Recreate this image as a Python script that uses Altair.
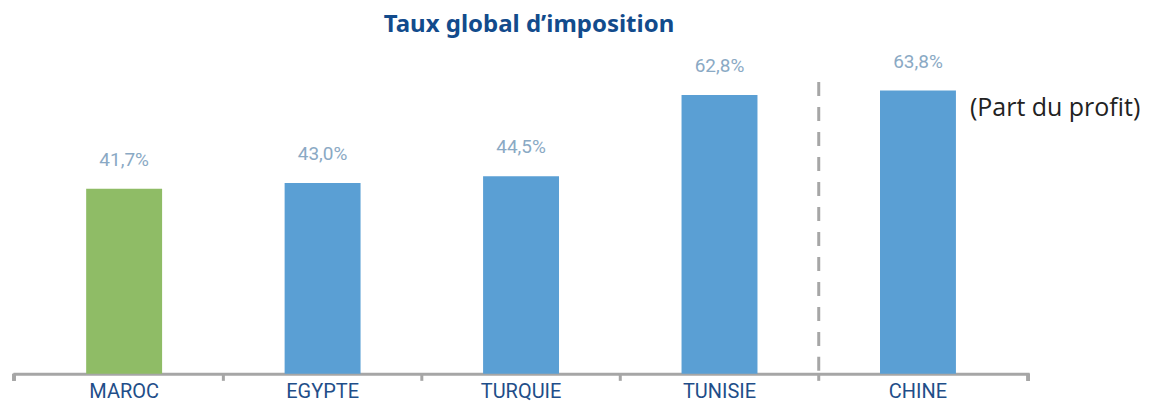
import altair as alt
import pandas as pd

countries = ["MAROC", "EGYPTE", "TURQUIE", "TUNISIE", "CHINE"]
values = [41.7, 43.0, 44.5, 62.8, 63.8]
groups = ["Maroc", "Autres", "Autres", "Autres", "Autres"]
title_text = "Taux global d\u2019imposition"
note_text = "(Part du profit)"

df = pd.DataFrame({"pays": countries, "taux": values, "groupe": groups})

W, H = 1017, 320
AXIS_GREY = "#A6A6A6"
DARK_BLUE = "#1F4E89"

x_enc = alt.X(
    "pays:N",
    sort=countries,
    scale=alt.Scale(paddingInner=0, paddingOuter=0.06),
    axis=alt.Axis(
        title=None,
        labelAngle=0,
        labelAlign="center",
        labelBaseline="top",
        ticks=False,
        domainColor=AXIS_GREY,
        domainWidth=3,
        labelColor=DARK_BLUE,
        labelFont="Roboto",
        labelFontSize=20,
        labelPadding=8,
    ),
)
y_enc = alt.Y("taux:Q", scale=alt.Scale(domain=[0, 72], nice=False, zero=True), axis=None)

base = alt.Chart(df)

bars = base.mark_bar(size=76).encode(
    x=x_enc,
    y=y_enc,
    color=alt.Color(
        "groupe:N",
        scale=alt.Scale(domain=["Maroc", "Autres"], range=["#8FBC66", "#5A9FD4"]),
        legend=None,
    ),
)

labels = base.transform_calculate(
    lab="replace(format(datum.taux, '.1f'), '.', ',') + '%'"
).mark_text(
    font="Roboto", fontSize=19, color="#8AA9C4", baseline="middle", dy=-29
).encode(x=alt.X("pays:N", sort=countries), y="taux:Q", text="lab:N")

note = base.transform_filter("datum.pays == 'CHINE'").mark_text(
    font="Open Sans", fontSize=25, color="#222222", align="left",
    baseline="middle", dx=52, dy=17
).encode(x=alt.X("pays:N", sort=countries), y="taux:Q", text=alt.value(note_text))

sep = base.transform_filter("datum.pays == 'CHINE'").mark_rule(
    color=AXIS_GREY, strokeWidth=3, strokeDash=[14, 11]
).encode(
    x=alt.X("pays:N", sort=countries, bandPosition=0),
    y=alt.value(28),
    y2=alt.value(H),
)

ticks = base.transform_filter("datum.pays != 'MAROC'").mark_rule(
    color=AXIS_GREY, strokeWidth=3
).encode(
    x=alt.X("pays:N", sort=countries, bandPosition=0),
    y=alt.value(H),
    y2=alt.value(H + 7),
)
tick_left = base.mark_rule(color=AXIS_GREY, strokeWidth=3).encode(
    x=alt.value(1), y=alt.value(H), y2=alt.value(H + 7)
)
tick_right = base.mark_rule(color=AXIS_GREY, strokeWidth=3).encode(
    x=alt.value(W - 1), y=alt.value(H), y2=alt.value(H + 7)
)

chart = alt.layer(bars, sep, labels, note, ticks, tick_left, tick_right).properties(
    width=W,
    height=H,
    padding={"left": 5, "top": 46, "right": 118, "bottom": 30},
    autosize=alt.AutoSizeParams(type="none"),
    title=alt.Title(
        title_text,
        font="Noto Sans",
        fontSize=24,
        fontWeight="bold",
        color="#124B8C",
        anchor="middle",
        frame="group",
        baseline="alphabetic",
        offset=-3,
        dx=8,
    ),
).configure(background="white").configure_view(stroke="transparent", strokeWidth=0)

chart.save("out.html", embed_options={"renderer": "svg", "actions": False})
